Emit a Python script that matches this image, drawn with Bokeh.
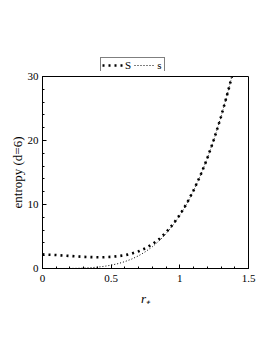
from bokeh.plotting import figure
from bokeh.models import Legend, LegendItem, FixedTicker
from bokeh.layouts import column
from bokeh.embed import file_html
from bokeh.resources import INLINE

r_vals = [0, 0.05, 0.1, 0.15, 0.2, 0.25, 0.3, 0.35, 0.4, 0.45, 0.5, 0.55, 0.6, 0.65,
          0.7, 0.75, 0.8, 0.85, 0.9, 0.95, 1.0, 1.05, 1.1, 1.15, 1.2, 1.25, 1.3, 1.35, 1.38]
S_vals = [2.2, 2.15, 2.1, 2.03, 1.96, 1.88, 1.82, 1.78, 1.76, 1.77, 1.82, 1.92, 2.08, 2.33,
          2.69, 3.17, 3.8, 4.6, 5.65, 6.9, 8.4, 10.15, 12.2, 14.55, 17.22, 20.27, 23.72, 27.58, 30.1]
s_vals = [0, 0.0, 0.001, 0.004, 0.013, 0.032, 0.067, 0.125, 0.21, 0.34, 0.52, 0.76, 1.08, 1.48,
          1.99, 2.63, 3.4, 4.33, 5.45, 6.76, 8.3, 10.09, 12.15, 14.52, 17.21, 20.26, 23.71, 27.57, 30.1]
x_ticks = [0, 0.5, 1, 1.5]
y_ticks = [0, 10, 20, 30]
series_labels = ["S", "s"]

FONT = "Liberation Serif"
S_STYLE = dict(line_color="black", line_width=2.6, line_dash="2 4")
s_STYLE = dict(line_color="black", line_width=1, line_dash="1 2")

# ---- legend strip (its own lines are kept out of view; only the legend shows) ----
lg = figure(width=257, height=71, x_range=(10, 11), y_range=(100, 101),
            output_backend="svg", toolbar_location=None,
            x_axis_location=None, y_axis_location=None,
            min_border_left=0, min_border_right=0,
            min_border_top=0, min_border_bottom=0)
lg.grid.visible = False
lg.outline_line_color = None
lg.border_fill_color = "white"
lS = lg.line(r_vals, S_vals, **S_STYLE)
ls = lg.line(r_vals, s_vals, **s_STYLE)
legend = Legend(items=[LegendItem(label=series_labels[0], renderers=[lS]),
                       LegendItem(label=series_labels[1], renderers=[ls])],
                orientation="horizontal", location=(58, -2))
legend.label_text_font = FONT
legend.label_text_font_size = "11px"
legend.label_text_color = "black"
legend.label_height = 8
legend.label_width = 6
legend.glyph_height = 8
legend.glyph_width = 21
legend.label_standoff = 2
legend.spacing = 3
legend.padding = 1
legend.margin = 0
legend.border_line_color = "black"
legend.border_line_width = 1
legend.background_fill_color = "white"
legend.background_fill_alpha = 1
lg.add_layout(legend)

# ---- main plot ----
p = figure(width=257, height=260, x_range=(0, 1.5), y_range=(0, 30),
           output_backend="svg", toolbar_location=None,
           min_border_left=42, min_border_top=5, min_border_right=9, min_border_bottom=63)
p.grid.visible = False
p.outline_line_color = "black"
p.outline_line_width = 1
p.background_fill_color = "white"
p.border_fill_color = "white"

p.line(r_vals, S_vals, **S_STYLE)
p.line(r_vals, s_vals, **s_STYLE)

for ax in (p.xaxis[0], p.yaxis[0]):
    ax.axis_line_color = "black"
    ax.major_tick_line_color = "black"
    ax.minor_tick_line_color = "black"
    ax.major_tick_out = 0
    ax.major_tick_in = 4
    ax.minor_tick_out = 0
    ax.minor_tick_in = 2
    ax.major_label_text_font = FONT
    ax.major_label_text_font_size = "11px"
    ax.major_label_text_color = "black"
    ax.axis_label_text_font = FONT
    ax.axis_label_text_font_style = "normal"
    ax.axis_label_text_color = "black"

p.xaxis[0].ticker = FixedTicker(ticks=x_ticks, minor_ticks=[0.1 * i for i in range(16)])
p.yaxis[0].ticker = FixedTicker(ticks=y_ticks, minor_ticks=[2 * i for i in range(16)])
p.xaxis[0].axis_label = "r₊"
p.xaxis[0].axis_label_text_font_style = "italic"
p.xaxis[0].axis_label_text_font_size = "13px"
p.xaxis[0].axis_label_standoff = 6
p.xaxis[0].major_label_standoff = 6
p.yaxis[0].axis_label = "entropy (d=6)"
p.yaxis[0].axis_label_text_font_size = "13px"
p.yaxis[0].axis_label_standoff = 0
p.yaxis[0].major_label_standoff = 4

layout = column(lg, p, spacing=0)
open("out.html", "w").write(file_html(layout, INLINE))
